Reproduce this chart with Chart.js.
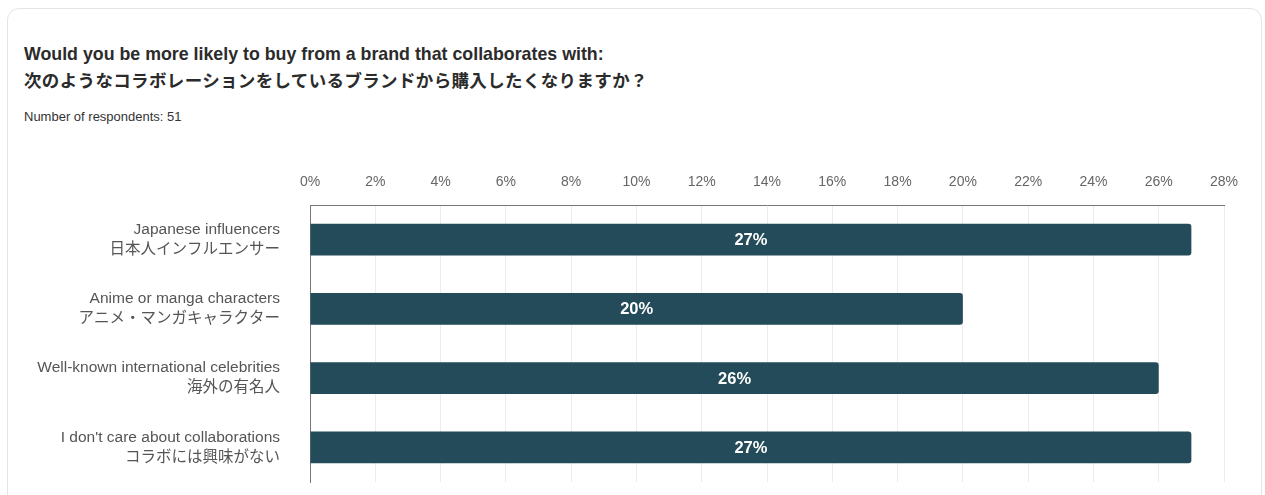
<!DOCTYPE html>
<html>
<head>
<meta charset="utf-8">
<script src="https://cdn.jsdelivr.net/npm/chart.js@4/dist/chart.umd.min.js"></script>
<style>
  html, body { margin: 0; padding: 0; background: #fff; }
  body { width: 1265px; height: 495px; overflow: hidden; position: relative;
         font-family: "Liberation Sans", Arial, "Noto Sans CJK JP", sans-serif; }
  .card { position: absolute; left: 7px; top: 8px; width: 1255px; height: 520px;
          border: 1px solid #e4e4e4; border-radius: 12px; box-sizing: border-box; }
  .title { position: absolute; left: 24px; top: 42px; color: #2b2b2b; font-weight: bold;
           font-size: 17.8px; line-height: 25px; }
  .title .ja { font-family: "Noto Sans CJK JP", sans-serif; font-size: 17.5px; letter-spacing: 0.35px; }
  .sub { position: absolute; left: 24px; top: 109px; color: #333; font-size: 13px; }
  #chart { position: absolute; left: 0; top: 150px; }
</style>
</head>
<body>
<div class="card"></div>
<div class="title">Would you be more likely to buy from a brand that collaborates with:<br><span class="ja">次のようなコラボレーションをしているブランドから購入したくなりますか？</span></div>
<div class="sub">Number of respondents: 51</div>
<canvas id="chart" width="1265" height="345"></canvas>
<script>
// Survey answers, share of respondents in percent
const categories = [
  ["Japanese influencers", "日本人インフルエンサー"],
  ["Anime or manga characters", "アニメ・マンガキャラクター"],
  ["Well-known international celebrities", "海外の有名人"],
  ["I don't care about collaborations", "コラボには興味がない"],
];
const shares = [27, 20, 26, 27];
const axisMax = 28;
const axisStep = 2;

// value text centred inside each bar
const barValues = {
  id: "barValues",
  afterDatasetsDraw(chart) {
    const { ctx } = chart;
    const meta = chart.getDatasetMeta(0);
    ctx.save();
    ctx.fillStyle = "#ffffff";
    ctx.font = "bold 16.5px 'Liberation Sans', Arial, sans-serif";
    ctx.textAlign = "center";
    ctx.textBaseline = "middle";
    meta.data.forEach((bar, i) => {
      const x = (bar.base + bar.x) / 2;
      ctx.fillText(shares[i] + "%", x, bar.y + 1);
    });
    ctx.restore();
  },
};

new Chart(document.getElementById("chart"), {
  type: "bar",
  data: {
    labels: categories,
    datasets: [{
      data: shares,
      backgroundColor: "#234b59",
      borderRadius: 3,
      borderSkipped: "start",
      barPercentage: 0.46,
      categoryPercentage: 1,
    }],
  },
  plugins: [barValues],
  options: {
    indexAxis: "y",
    responsive: false,
    animation: false,
    layout: { padding: { left: 0, right: 41, top: 0, bottom: 13 } },
    plugins: {
      legend: { display: false },
      tooltip: { enabled: false },
    },
    scales: {
      x: {
        position: "top",
        min: 0,
        max: axisMax,
        afterFit: (scale) => { scale.height = 55; },
        ticks: {
          stepSize: axisStep,
          padding: 14,
          color: "#666",
          font: { size: 14, family: "'Liberation Sans', Arial, sans-serif" },
          callback: (v) => v + "%",
        },
        grid: { color: "#ececec", drawTicks: false },
        border: { color: "#777", width: 1 },
      },
      y: {
        // fixed label column; two-line labels sit inside their band, no extra room needed
        afterFit: (scale) => {
          scale.width = 310;
          scale.paddingTop = 0;
          scale.paddingBottom = 0;
        },
        ticks: {
          padding: 30,
          color: "#555",
          font: { size: 15.5, lineHeight: 1.3, family: "'Liberation Sans', Arial, 'Noto Sans CJK JP', sans-serif" },
        },
        grid: { display: false, drawTicks: false },
        border: { color: "#777", width: 1 },
      },
    },
  },
});
</script>
</body>
</html>
